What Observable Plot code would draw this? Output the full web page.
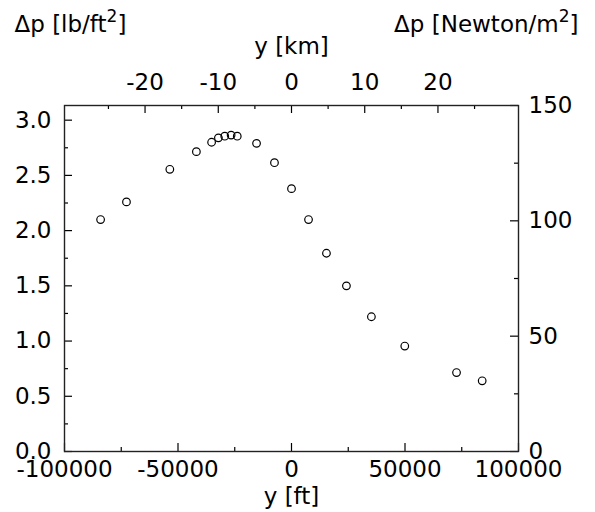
<!DOCTYPE html>
<html>
<head>
<meta charset="utf-8">
<script src="https://cdn.jsdelivr.net/npm/d3@7"></script>
<script src="https://cdn.jsdelivr.net/npm/@observablehq/plot@0.6"></script>
<style>
  html, body { margin: 0; padding: 0; background: white; }
</style>
</head>
<body>
<div id="chart"></div>
<script>
// Data
const yFt = [-84100, -72700, -53600, -41900, -35200, -32200, -29400, -26600, -23900, -15400, -7500, 0, 7500, 15400, 24200, 35200, 49900, 72700, 84000];
const dpLb = [2.10, 2.26, 2.555, 2.715, 2.80, 2.84, 2.855, 2.865, 2.855, 2.79, 2.615, 2.38, 2.10, 1.795, 1.50, 1.22, 0.955, 0.715, 0.64];

// Axis ticks
const ftTicks = [-100000, -50000, 0, 50000, 100000];
const ftMinor = [-75000, -25000, 25000, 75000];
const kmTicks = [-20, -10, 0, 10, 20];
const kmMinor = [-25, -15, -5, 5, 15, 25];
const lbTicks = [0, 0.5, 1.0, 1.5, 2.0, 2.5, 3.0];
const lbMinor = [0.25, 0.75, 1.25, 1.75, 2.25, 2.75];
const nTicks = [0, 50, 100, 150];
const nMinor = [25, 75, 125];

const titleLeft = "Δp [lb/ft²]";
const titleRight = "Δp [Newton/m²]";
const titleTop = "y [km]";
const titleBottom = "y [ft]";

const N_PER_LB = 47.88;          // N/m² per lb/ft²
const FT_PER_KM = 100000 / 31;   // top axis range as drawn in the reference

const W = 595, H = 512;
const mL = 64, mR = 77, mT = 105, mB = 61;
const pw = W - mL - mR, ph = H - mT - mB;
const fs = 23;
const font = "'DejaVu Sans', 'Liberation Sans', Arial, sans-serif";

const data = yFt.map((x, i) => ({x, y: dpLb[i]}));

const chart = Plot.plot({
  width: W, height: H,
  marginLeft: mL, marginRight: mR, marginTop: mT, marginBottom: mB,
  style: {fontFamily: font, background: "white", overflow: "visible"},
  x: {domain: [-100000, 100000], axis: null},
  y: {domain: [0, 150 / N_PER_LB], axis: null},
  marks: [
    // inward ticks
    Plot.tickX(ftTicks, {x: d => d, insetTop: ph - 8, stroke: "black", strokeWidth: 1.2}),
    Plot.tickX(ftMinor, {x: d => d, insetTop: ph - 4, stroke: "black", strokeWidth: 1.2}),
    Plot.tickX(kmTicks, {x: d => d * FT_PER_KM, insetBottom: ph - 8, stroke: "black", strokeWidth: 1.2}),
    Plot.tickX(kmMinor, {x: d => d * FT_PER_KM, insetBottom: ph - 4, stroke: "black", strokeWidth: 1.2}),
    Plot.tickY(lbTicks, {y: d => d, insetRight: pw - 8, stroke: "black", strokeWidth: 1.2}),
    Plot.tickY(lbMinor, {y: d => d, insetRight: pw - 4, stroke: "black", strokeWidth: 1.2}),
    Plot.tickY(nTicks, {y: d => d / N_PER_LB, insetLeft: pw - 8, stroke: "black", strokeWidth: 1.2}),
    Plot.tickY(nMinor, {y: d => d / N_PER_LB, insetLeft: pw - 4, stroke: "black", strokeWidth: 1.2}),
    Plot.frame({stroke: "#222", strokeWidth: 1.4}),
    // tick labels
    Plot.text(ftTicks, {x: d => d, frameAnchor: "bottom", lineAnchor: "bottom", dy: 25, text: d => String(d), fontSize: fs, fill: "black"}),
    Plot.text(kmTicks, {x: d => d * FT_PER_KM, frameAnchor: "top", lineAnchor: "bottom", dy: -16, text: d => String(d), fontSize: fs, fill: "black"}),
    Plot.text(lbTicks, {y: d => d, frameAnchor: "left", dx: -13, textAnchor: "end", text: d => d.toFixed(1), fontSize: fs, fill: "black"}),
    Plot.text(nTicks, {y: d => d / N_PER_LB, frameAnchor: "right", dx: 10, textAnchor: "start", text: d => String(d), fontSize: fs, fill: "black"}),
    // axis titles
    Plot.text([titleBottom], {frameAnchor: "bottom", lineAnchor: "bottom", dy: 52, text: d => d, fontSize: fs, fill: "black"}),
    Plot.text([titleTop], {frameAnchor: "top", lineAnchor: "bottom", dy: -51.5, text: d => d, fontSize: fs, fill: "black"}),
    Plot.text([titleLeft], {frameAnchor: "top-left", lineAnchor: "bottom", dx: -50, dy: -74, textAnchor: "start", text: d => d, fontSize: fs, fill: "black"}),
    Plot.text([titleRight], {frameAnchor: "top-right", lineAnchor: "bottom", dx: 60, dy: -74, textAnchor: "end", text: d => d, fontSize: fs, fill: "black"}),
    // data
    Plot.dot(data, {x: "x", y: "y", r: 3.8, stroke: "black", strokeWidth: 1.2, fill: "none"})
  ]
});

// render the "²" as a real raised superscript, as in the reference
chart.querySelectorAll("text").forEach(t => {
  const s = t.textContent;
  const i = s.indexOf("²");
  if (i < 0) return;
  t.textContent = "";
  const ns = "http://www.w3.org/2000/svg";
  const a = document.createElementNS(ns, "tspan");
  a.textContent = s.slice(0, i);
  const b = document.createElementNS(ns, "tspan");
  b.textContent = "2";
  b.setAttribute("font-size", "17");
  b.setAttribute("dy", "-10");
  const c = document.createElementNS(ns, "tspan");
  c.textContent = s.slice(i + 1);
  c.setAttribute("dy", "10");
  t.append(a, b, c);
});

document.getElementById("chart").appendChild(chart);
</script>
</body>
</html>
